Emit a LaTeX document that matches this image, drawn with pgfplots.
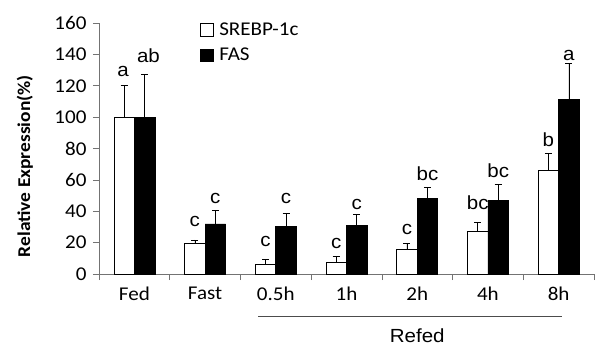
\documentclass[border=0pt]{standalone}
\usepackage{pgfplots}
\pgfplotsset{compat=1.18}
\usepackage{fontspec}
\setmainfont[FakeStretch=1.08]{Carlito}
\newfontfamily\arialf[FakeStretch=1.08]{Liberation Sans}
\begin{document}
\begin{tikzpicture}
\begin{axis}[
  scale only axis, width=495bp, height=251bp,
  xmin=0, xmax=7, ymin=0, ymax=160,
  axis lines*=left,
  axis line style={draw=black!55, line width=0.7bp},
  ybar, bar width=0.29,
  ytick={0,20,...,160},
  xtick={0.5,1.5,...,6.5},
  xticklabels={Fed,Fast,0.5h,1h,2h,4h,8h},
  minor xtick={0,1,...,7},
  tick align=outside,
  major tick length=6bp,
  minor tick length=6bp,
  tick style={draw=black!55, line width=0.7bp},
  major x tick style={draw=none},
  /pgf/number format/assume math mode=true,
  ticklabel style={font=\fontsize{19.5bp}{21bp}\selectfont},
  xticklabel style={yshift=-3bp},
  yticklabel style={xshift=-3bp},
  ylabel={Relative Expression(\%)},
  ylabel style={at={(axis description cs:-0.15,0.43)}, anchor=center, font=\bfseries\fontsize{18bp}{20bp}\selectfont},
  clip=false,
  legend style={at={(axis description cs:0.204,1.01)}, anchor=north west, draw=none, fill=none, inner sep=0pt, font=\fontsize{19.5bp}{21bp}\selectfont, row sep=7bp, column sep=4bp},
  legend cell align=left,
  legend image code/.code={\draw[#1, draw=black, line width=0.6bp] (0bp,-6.5bp) rectangle (12.5bp,6bp);},
  error bars/error bar style={black, line width=0.6bp},
  error bars/error mark options={rotate=90, mark size=3.5bp, black, line width=0.6bp},
]
\addplot[fill=white, draw=black, line width=0.6bp, bar shift=-0.145,
  error bars/.cd, y dir=plus, y explicit] coordinates {
  (0.5,100) +- (0,20)
  (1.5,19.7) +- (0,2.1)
  (2.5,6.4) +- (0,2.7)
  (3.5,7.4) +- (0,3.9)
  (4.5,15.9) +- (0,3.8)
  (5.5,27.2) +- (0,5.9)
  (6.5,66.2) +- (0,10.7)
};
\addlegendentry{SREBP-1c}
\addplot[fill=black, draw=black, line width=0.6bp, bar shift=0.145,
  error bars/.cd, y dir=plus, y explicit] coordinates {
  (0.5,100) +- (0,27)
  (1.5,32) +- (0,8.6)
  (2.5,30.1) +- (0,8.3)
  (3.5,30.8) +- (0,7.2)
  (4.5,48.2) +- (0,7)
  (5.5,46.9) +- (0,10.4)
  (6.5,111.3) +- (0,22.9)
};
\addlegendentry{FAS}
\begin{scope}[every node/.style={anchor=base, inner sep=0pt, font=\arialf\fontsize{19bp}{21bp}\selectfont}]
\node at (axis cs:0.34,125.6) {a};
\node at (axis cs:0.70,135.1) {ab};
\node at (axis cs:1.355,30.2) {c};
\node at (axis cs:1.645,45) {c};
\node at (axis cs:2.355,17.8) {c};
\node at (axis cs:2.645,45) {c};
\node at (axis cs:3.355,16.4) {c};
\node at (axis cs:3.645,40.8) {c};
\node at (axis cs:4.355,24.9) {c};
\node at (axis cs:4.645,59.9) {bc};
\node at (axis cs:5.355,40.8) {bc};
\node at (axis cs:5.645,61.8) {bc};
\node at (axis cs:6.355,81.1) {b};
\node at (axis cs:6.645,136.4) {a};
\end{scope}
\draw[black!70, line width=0.7bp] (axis cs:2.25,-27.2) -- (axis cs:6.55,-27.2);
\node[anchor=center, font=\arialf\fontsize{19bp}{21bp}\selectfont] at (axis cs:4.5,-39.2) {Refed};
\end{axis}
\pgfresetboundingbox
\path (current axis.origin) ++(-99bp,-71bp) rectangle ++(595bp,345bp);
\end{tikzpicture}
\end{document}
